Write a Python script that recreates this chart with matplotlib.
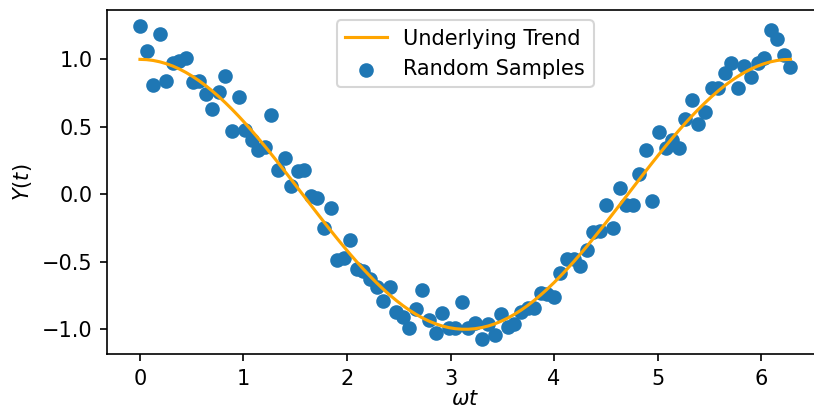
import numpy as np
import matplotlib
matplotlib.use("Agg")
import matplotlib.pyplot as plt

# sample positions: 100 evenly spaced points over one period
n_samples = 100
wt = np.linspace(0, 2*np.pi, n_samples)

# noisy samples
y_samples = [
    1.25, 1.06, 0.81, 1.19, 0.84, 0.97, 0.99, 1.01, 0.83, 0.84,
    0.74, 0.63, 0.76, 0.88, 0.47, 0.72, 0.48, 0.40, 0.33, 0.35,
    0.59, 0.18, 0.27, 0.06, 0.17, 0.18, -0.01, -0.03, -0.25, -0.10,
    -0.49, -0.47, -0.34, -0.55, -0.57, -0.63, -0.69, -0.79, -0.69, -0.87,
    -0.91, -0.99, -0.85, -0.71, -0.93, -1.03, -0.88, -0.99, -0.99, -0.80,
    -0.99, -0.95, -1.07, -0.96, -1.04, -0.89, -0.98, -0.96, -0.87, -0.84,
    -0.84, -0.73, -0.74, -0.76, -0.58, -0.48, -0.48, -0.53, -0.41, -0.28,
    -0.27, -0.08, -0.25, 0.05, -0.08, -0.08, 0.15, 0.33, -0.05, 0.46,
    0.34, 0.40, 0.34, 0.56, 0.70, 0.52, 0.61, 0.79, 0.79, 0.90,
    0.97, 0.79, 0.95, 0.87, 0.97, 1.01, 1.22, 1.15, 1.03, 0.94,
]

# underlying trend (cosine)
y_trend = np.cos(wt)

fig = plt.figure(figsize=(814/150, 415/150), dpi=150)
# axes runs slightly past the right edge, like the cropped original
ax = fig.add_axes([0.132, 0.146, 0.879, 0.830])

ax.plot(wt, y_trend, color="orange", lw=1.5, label="Underlying Trend")
ax.scatter(wt, y_samples, color="#1f77b4", label="Random Samples")

ax.set_xlabel(r"$\omega t$", labelpad=0)
ax.set_ylabel(r"$Y(t)$")
ax.legend(loc="upper center")

fig.savefig("out.png", dpi=150)
